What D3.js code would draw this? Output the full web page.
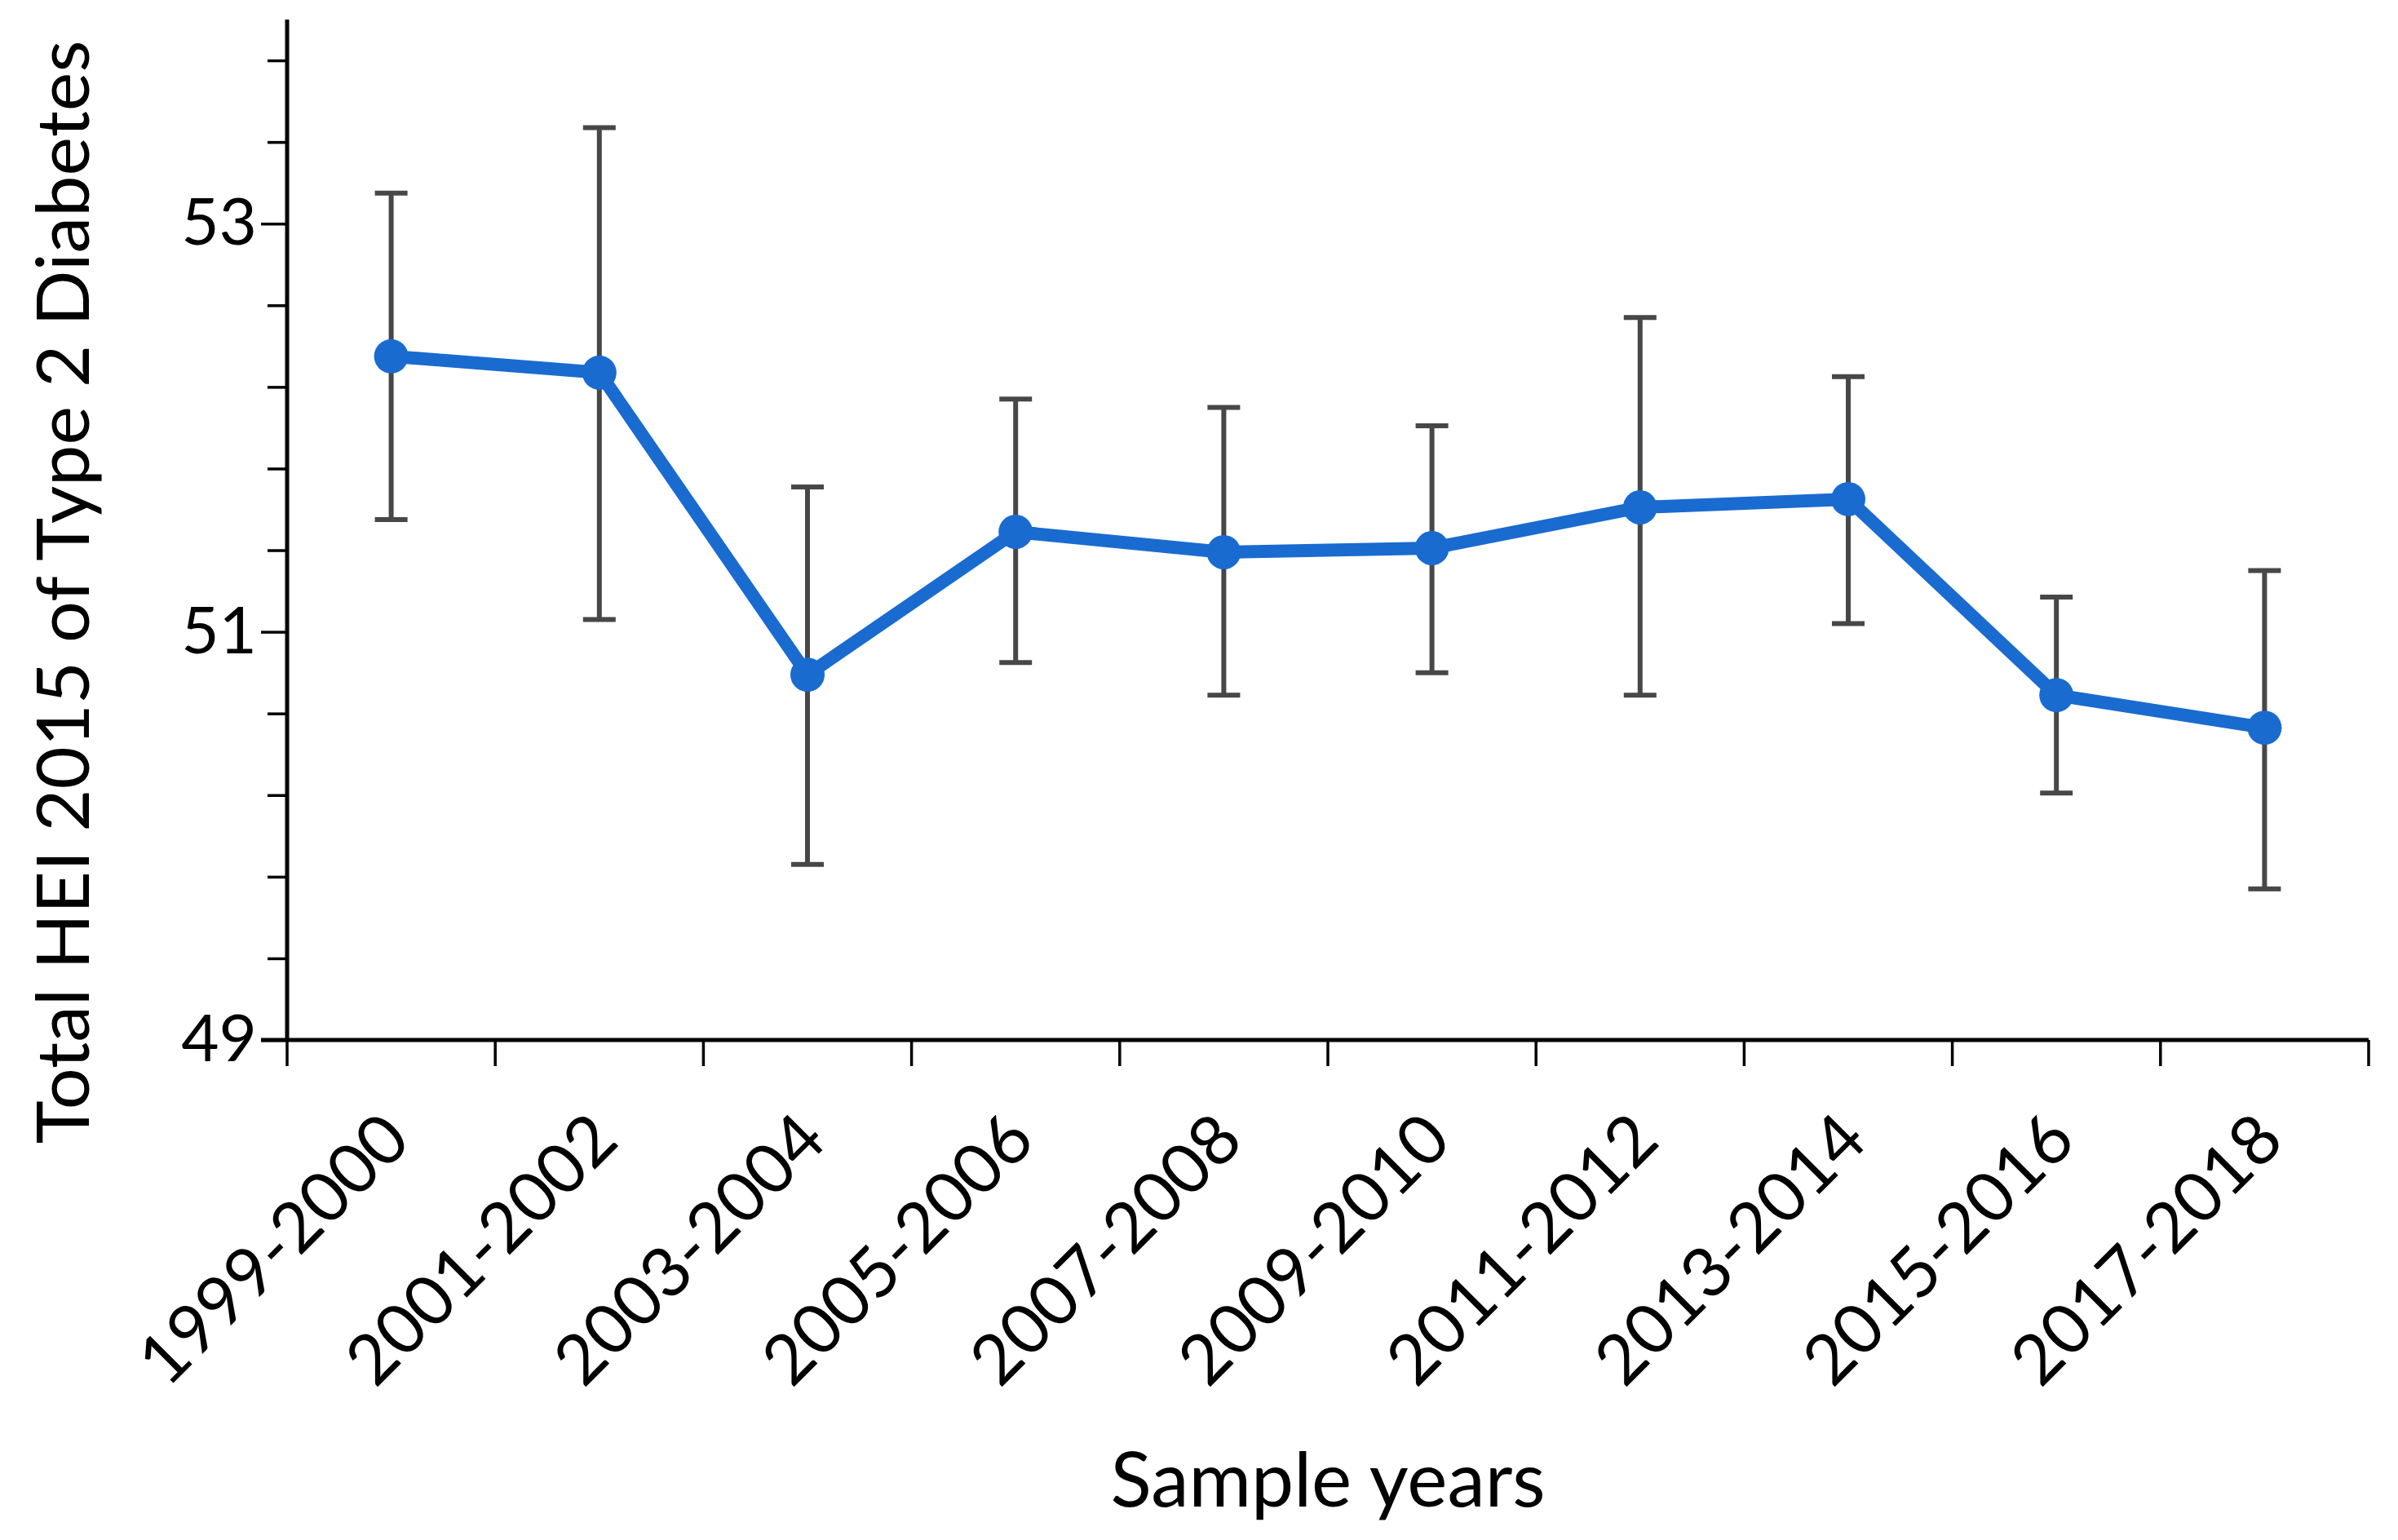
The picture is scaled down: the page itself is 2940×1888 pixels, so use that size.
<!DOCTYPE html>
<html><head><meta charset="utf-8">
<script src="https://cdn.jsdelivr.net/npm/d3@7"></script>
<style>html,body{margin:0;padding:0;background:#fff;}</style>
</head><body>
<script>
const categories = ["1999-2000","2001-2002","2003-2004","2005-2006","2007-2008","2009-2010","2011-2012","2013-2014","2015-2016","2017-2018"];
const means = [52.35, 52.27, 50.79, 51.49, 51.39, 51.41, 51.61, 51.65, 50.69, 50.53];
const upper = [53.15, 53.47, 51.71, 52.14, 52.10, 52.01, 52.54, 52.25, 51.17, 51.30];
const lower = [51.55, 51.06, 49.86, 50.85, 50.69, 50.80, 50.69, 51.04, 50.21, 49.74];
const yMajorTicks = [49, 51, 53];
const yMinorTicks = [49.4, 49.8, 50.2, 50.6, 51.4, 51.8, 52.2, 52.6, 53.4, 53.8];
const yTitle = "Total HEI 2015 of Type 2 Diabetes";
const xTitle = "Sample years";

const W = 2940, H = 1888;
const m = {left: 352, right: 36, top: 24, bottom: 613};
const font = "Lato, 'Open Sans', sans-serif";

const svg = d3.select("body").append("svg").attr("width", W).attr("height", H);
const x = d3.scaleBand().domain(categories).range([m.left, W - m.right]);
const y = d3.scaleLinear().domain([49, 54]).range([H - m.bottom, m.top]);
const cx = d => x(d) + x.bandwidth() / 2;

// Error bars
const eb = svg.append("g").attr("stroke", "#474747").attr("stroke-width", 6);
categories.forEach((c, i) => {
  eb.append("line").attr("x1", cx(c)).attr("x2", cx(c)).attr("y1", y(upper[i])).attr("y2", y(lower[i]));
  [upper[i], lower[i]].forEach(v => eb.append("line").attr("x1", cx(c) - 20).attr("x2", cx(c) + 20).attr("y1", y(v)).attr("y2", y(v)));
});

// Line and markers
const blue = "#1a6bcf";
svg.append("path").datum(means)
  .attr("d", d3.line().x((d, i) => cx(categories[i])).y(d => y(d)))
  .attr("fill", "none").attr("stroke", blue).attr("stroke-width", 16).attr("stroke-linejoin", "round");
svg.append("g").selectAll("circle").data(means).join("circle")
  .attr("cx", (d, i) => cx(categories[i])).attr("cy", d => y(d)).attr("r", 21).attr("fill", blue);

// Y axis
const yAxis = svg.append("g").attr("transform", `translate(${m.left},0)`)
  .call(d3.axisLeft(y).tickValues(yMajorTicks).tickSize(32).tickPadding(5).tickFormat(d3.format("d")));
yAxis.select(".domain").attr("stroke", "#000").attr("stroke-width", 5).attr("d", `M0,${y(54)}V${y(49)}`);
yAxis.selectAll(".tick line").attr("stroke", "#000").attr("stroke-width", 3.5);
yAxis.selectAll(".tick text").attr("font-family", font).attr("font-size", 80).attr("fill", "#000");
const yMinor = svg.append("g").attr("transform", `translate(${m.left},0)`)
  .call(d3.axisLeft(y).tickValues(yMinorTicks).tickSize(24).tickFormat(""));
yMinor.select(".domain").remove();
yMinor.selectAll(".tick line").attr("stroke", "#000").attr("stroke-width", 3.5);

// X axis
const xAxis = svg.append("g").attr("transform", `translate(0,${y(49)})`)
  .call(d3.axisBottom(x).tickSize(0).tickFormat(""));
xAxis.select(".domain").attr("stroke", "#000").attr("stroke-width", 5).attr("d", `M${m.left - 32},0H${W - m.right}`);
const bounds = categories.map(c => x(c)).concat([x(categories[categories.length - 1]) + x.bandwidth()]);
xAxis.append("g").selectAll("line").data(bounds).join("line")
  .attr("x1", d => d).attr("x2", d => d).attr("y1", 0).attr("y2", 32)
  .attr("stroke", "#000").attr("stroke-width", 3.5);
xAxis.append("g").selectAll("text").data(categories).join("text")
  .attr("transform", d => `translate(${cx(d) - 16},${84}) rotate(-45)`)
  .attr("text-anchor", "end").attr("dy", "0.71em")
  .attr("font-family", font).attr("font-size", 85).attr("fill", "#000")
  .text(d => d);

// Titles
svg.append("text").attr("x", (m.left + W - m.right) / 2).attr("y", 1847)
  .attr("text-anchor", "middle").attr("font-family", font).attr("font-size", 93).attr("fill", "#000")
  .text(xTitle);
svg.append("text").attr("transform", `translate(109,726) rotate(-90)`)
  .attr("text-anchor", "middle").attr("font-family", font).attr("font-size", 90).attr("fill", "#000")
  .text(yTitle);
</script>
</body></html>
